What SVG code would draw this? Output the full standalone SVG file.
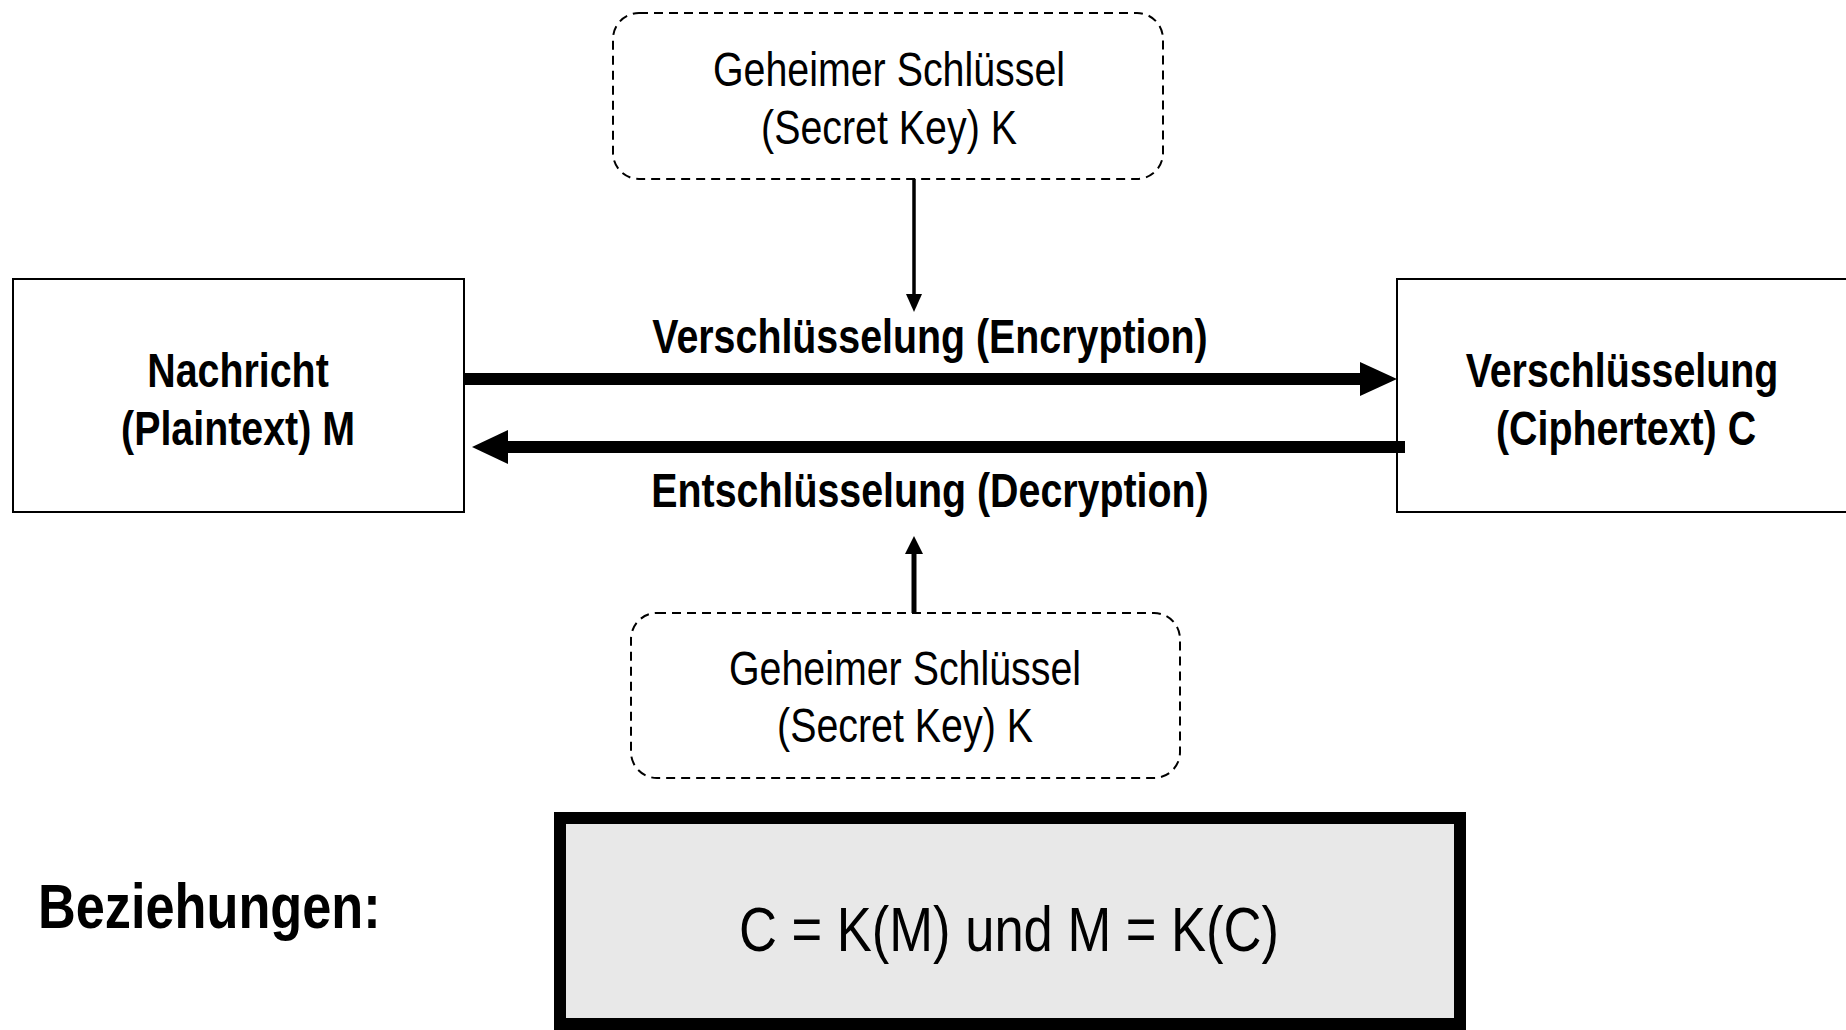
<svg xmlns="http://www.w3.org/2000/svg" width="1846" height="1030" viewBox="0 0 1846 1030">
<style>
text{font-family:"Liberation Sans Narrow","Liberation Sans",Arial,sans-serif;fill:#000;text-anchor:middle}
.b{font-weight:bold;font-size:48px}
.k{font-size:48px}
.key{fill:#fff;stroke:#000;stroke-width:2;stroke-dasharray:9 6}
.box{fill:#fff;stroke:#000;stroke-width:2}
</style>
<rect width="1846" height="1030" fill="#fff"/>
<g id="key-top">
<rect class="key" x="613" y="13" width="550" height="166" rx="26"/>
<text class="k" transform="translate(889 86) scale(0.82 1)">Geheimer Schlüssel</text>
<text class="k" transform="translate(889 144) scale(0.82 1)">(Secret Key) K</text>
</g>
<g id="plaintext">
<rect class="box" x="13" y="279" width="451" height="233"/>
<text class="b" transform="translate(238 387) scale(0.82 1)">Nachricht</text>
<text class="b" transform="translate(238 445) scale(0.82 1)">(Plaintext) M</text>
</g>
<g id="ciphertext">
<rect class="box" x="1397" y="279" width="460" height="233"/>
<text class="b" transform="translate(1622 387) scale(0.82 1)">Verschlüsselung</text>
<text class="b" transform="translate(1626 445) scale(0.82 1)">(Ciphertext) C</text>
</g>
<g id="key-bottom">
<rect class="key" x="631" y="613" width="549" height="165" rx="26"/>
<text class="k" transform="translate(905 685) scale(0.82 1)">Geheimer Schlüssel</text>
<text class="k" transform="translate(905 742) scale(0.82 1)">(Secret Key) K</text>
</g>
<g id="connectors">
<line x1="914" y1="179" x2="914" y2="296" stroke="#000" stroke-width="3.5"/>
<polygon points="906,294 922,294 914,312" fill="#000"/>
<line x1="464" y1="379" x2="1362" y2="379" stroke="#000" stroke-width="12"/>
<polygon points="1360,362 1397,379 1360,396" fill="#000"/>
<line x1="1405" y1="447" x2="505" y2="447" stroke="#000" stroke-width="12"/>
<polygon points="508,430 472,447 508,464" fill="#000"/>
<line x1="914" y1="613" x2="914" y2="552" stroke="#000" stroke-width="5"/>
<polygon points="905,554 923,554 914,536" fill="#000"/>
<text class="b" transform="translate(930 353) scale(0.82 1)">Verschlüsselung (Encryption)</text>
<text class="b" transform="translate(930 507) scale(0.82 1)">Entschlüsselung (Decryption)</text>
</g>
<g id="relations">
<text class="b" transform="translate(38 928) scale(0.83 1)" style="font-size:63px;text-anchor:start">Beziehungen:</text>
<rect x="560" y="818" width="900" height="206" fill="#e8e8e8" stroke="#000" stroke-width="12"/>
<text transform="translate(1009 951) scale(0.834 1)" style="font-size:63px">C = K(M) und M = K(C)</text>
</g>
</svg>
